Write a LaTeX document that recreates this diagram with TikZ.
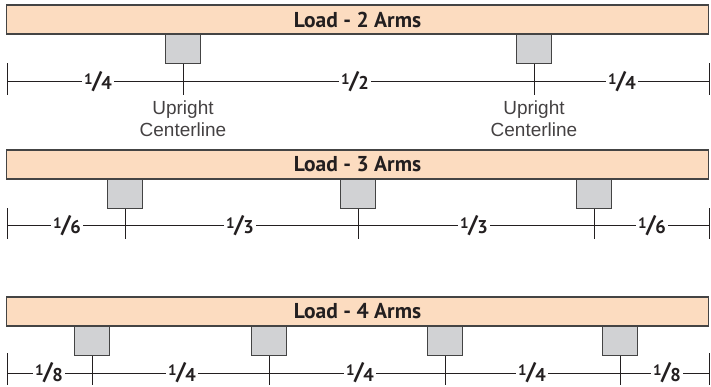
\documentclass[tikz,border=0pt]{standalone}
\usepackage{fontspec}
\newfontfamily\titlefont{PT Sans}
\newfontfamily\labfont{Liberation Sans}
\definecolor{peach}{HTML}{FCDCC0}
\definecolor{postgray}{HTML}{D1D2D4}
\definecolor{edge}{HTML}{444444}
\definecolor{ink}{HTML}{231F20}
\newcommand{\frc}[2]{{\fontsize{15}{15}\selectfont\raisebox{5.5pt}{#1}}\kern-0.5pt{\fontsize{24}{24}\selectfont\raisebox{1.5pt}{/}}\kern-0.5pt{\fontsize{18.5}{18}\selectfont#2}}
\tikzset{
  bar/.style={draw=edge, line width=1.7pt, fill=peach, minimum width=702pt, minimum height=29pt, inner sep=0pt, font=\titlefont\bfseries\fontsize{21.5}{24}\selectfont, text=ink},
  post/.style={draw=edge, line width=1.4pt, fill=postgray, minimum width=35pt, minimum height=29pt, inner sep=0pt, anchor=north},
  dim/.style={draw=ink, line width=0.8pt},
  frac/.style={fill=white, inner xsep=2pt, inner ysep=0pt, text depth=0pt, anchor=base, font=\titlefont\bfseries, text=ink},
  lab/.style={align=center, inner sep=0pt, anchor=north, font=\labfont\fontsize{19}{22}\selectfont, text=ink!85}
}
\begin{document}
\begin{tikzpicture}[x=1pt,y=-1pt]
\useasboundingbox (0,0) rectangle (711,386);
% ---------- Row 1 ----------
\node[bar] (bar1) at (357.5,19.5) {Load - 2 Arms};
\node[post] (p11) at (183,34) {};
\node[post] (p12) at (534,34) {};
\coordinate (l1t) at (7,63); \coordinate (l1b) at (7,95);
\coordinate (r1t) at (709,63); \coordinate (r1b) at (709,95);
\coordinate (l1) at (7,81); \coordinate (r1) at (709,81);
\coordinate (t11) at (183,95); \coordinate (t12) at (534,95);
\draw[dim] (l1t) -- (l1b);
\draw[dim] (r1t) -- (r1b);
\draw[dim] (l1) -- (r1);
\draw[dim] (p11.south) -- (t11);
\draw[dim] (p12.south) -- (t12);
\node[frac] (f11) at (98,89.5) {\frc{1}{4}};
\node[frac] (f12) at (355,89.5) {\frc{1}{2}};
\node[frac] (f13) at (622,89.5) {\frc{1}{4}};
\node[lab] (u1) at (183,101) {Upright\\Centerline};
\node[lab] (u2) at (534,101) {Upright\\Centerline};
% ---------- Row 2 ----------
\node[bar] (bar2) at (357.5,164.5) {Load - 3 Arms};
\node[post] (p21) at (125,179) {};
\node[post] (p22) at (358,179) {};
\node[post] (p23) at (594,179) {};
\coordinate (l2t) at (7,208); \coordinate (l2b) at (7,239);
\coordinate (r2t) at (709,208); \coordinate (r2b) at (709,239);
\coordinate (l2) at (7,225); \coordinate (r2) at (709,225);
\coordinate (t21) at (125,239); \coordinate (t22) at (358,239); \coordinate (t23) at (594,239);
\draw[dim] (l2t) -- (l2b);
\draw[dim] (r2t) -- (r2b);
\draw[dim] (l2) -- (r2);
\draw[dim] (p21.south) -- (t21);
\draw[dim] (p22.south) -- (t22);
\draw[dim] (p23.south) -- (t23);
\node[frac] (f21) at (67,233.5) {\frc{1}{6}};
\node[frac] (f22) at (240,233.5) {\frc{1}{3}};
\node[frac] (f23) at (474,233.5) {\frc{1}{3}};
\node[frac] (f24) at (652,233.5) {\frc{1}{6}};
% ---------- Row 3 ----------
\node[bar] (bar3) at (357.5,311.5) {Load - 4 Arms};
\node[post] (p31) at (92,326) {};
\node[post] (p32) at (269,326) {};
\node[post] (p33) at (445,326) {};
\node[post] (p34) at (620,326) {};
\coordinate (l3t) at (7,353); \coordinate (l3b) at (7,385);
\coordinate (r3t) at (709,353); \coordinate (r3b) at (709,385);
\coordinate (l3) at (7,373); \coordinate (r3) at (709,373);
\coordinate (t31) at (92,385); \coordinate (t32) at (269,385); \coordinate (t33) at (445,385); \coordinate (t34) at (620,385);
\draw[dim] (l3t) -- (l3b);
\draw[dim] (r3t) -- (r3b);
\draw[dim] (l3) -- (r3);
\draw[dim] (p31.south) -- (t31);
\draw[dim] (p32.south) -- (t32);
\draw[dim] (p33.south) -- (t33);
\draw[dim] (p34.south) -- (t34);
\node[frac] (f31) at (49,381) {\frc{1}{8}};
\node[frac] (f32) at (182,381) {\frc{1}{4}};
\node[frac] (f33) at (360,381) {\frc{1}{4}};
\node[frac] (f34) at (532,381) {\frc{1}{4}};
\node[frac] (f35) at (667,381) {\frc{1}{8}};
\end{tikzpicture}
\end{document}
